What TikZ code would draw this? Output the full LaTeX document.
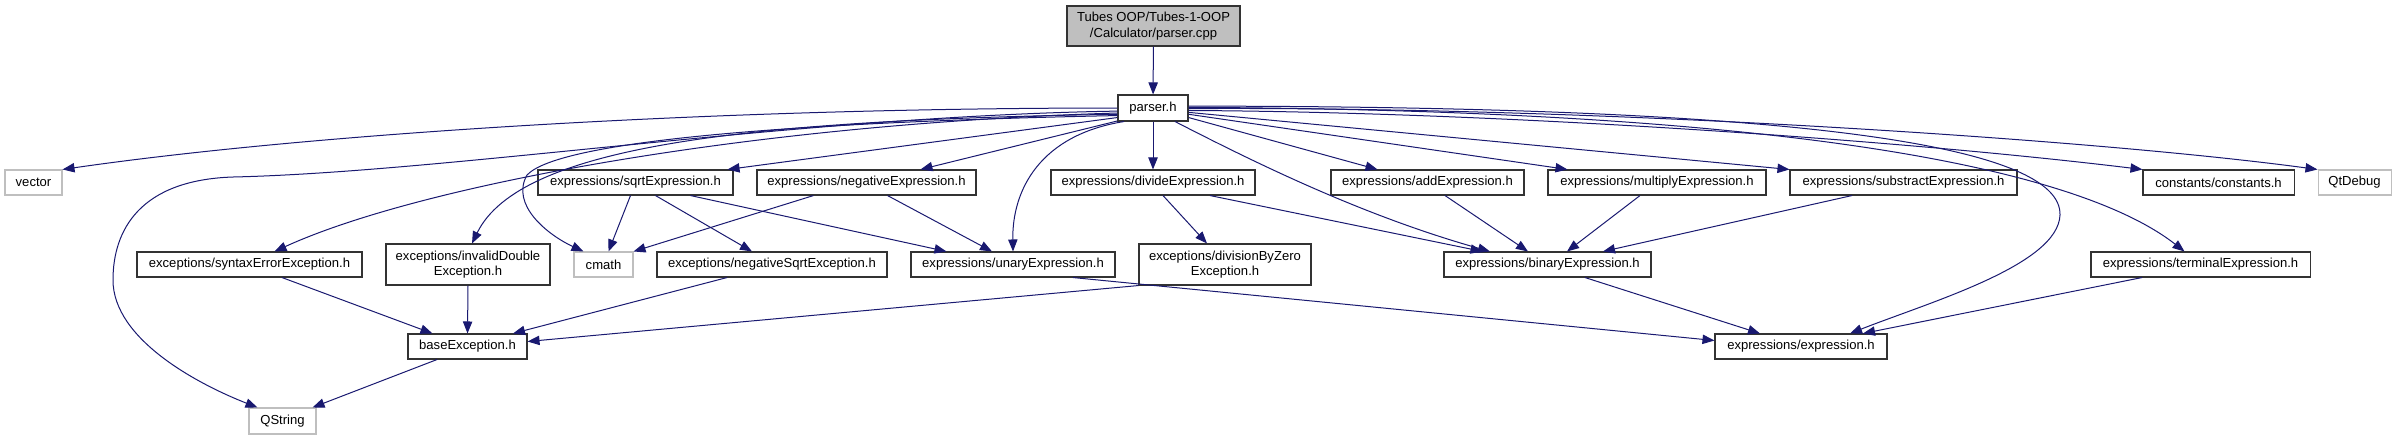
\documentclass[tikz,border=0pt]{standalone}
\usepackage{fontspec}
\setmainfont{Liberation Sans}
\usetikzlibrary{arrows.meta,calc}
\definecolor{edgeblue}{HTML}{191970}
\definecolor{boxgray}{HTML}{BFBFBF}
\definecolor{boxline}{HTML}{333333}

\begin{document}
\begin{tikzpicture}[
    x=0.75pt, y=-0.75pt,
    every node/.style={font=\fontsize{9.8}{11.5}\selectfont},
    file/.style={draw=boxline, line width=0.8pt, fill=white, inner sep=0pt,
        minimum height=25*0.75pt, align=center},
    sysfile/.style={file, draw=boxgray},
    srcfile/.style={file, fill=boxgray, minimum height=40*0.75pt},
    twoline/.style={minimum height=41*0.75pt},
    wd/.style={minimum width=#1*0.75pt},
    inc/.style={draw=edgeblue, line width=0.75pt, -{Triangle[length=9pt, width=7pt]}},
]
\useasboundingbox (0,0) rectangle (2397,440);

% the source file and its header
\node[srcfile, wd=173] (root) at (1153.5,26) {Tubes OOP/Tubes-1-OOP\\/Calculator/parser.cpp};
\node[file, wd=70, minimum height=26*0.75pt] (parser) at (1153,108) {parser.h};

% first row of includes
\node[sysfile, wd=57] (vec) at (33.5,182.5) {vector};
\node[file, wd=195] (sqrtE) at (635.5,182.5) {expressions/sqrtExpression.h};
\node[file, wd=219] (negE) at (866.5,182.5) {expressions/negativeExpression.h};
\node[file, wd=204] (divE) at (1153,182.5) {expressions/divideExpression.h};
\node[file, wd=193] (addE) at (1427.5,182.5) {expressions/addExpression.h};
\node[file, wd=218] (mulE) at (1657,182.5) {expressions/multiplyExpression.h};
\node[file, wd=227] (subE) at (1903.5,182.5) {expressions/substractExpression.h};
\node[file, wd=151] (consts) at (2218.5,182.5) {constants/constants.h};
\node[sysfile, wd=73] (qtdbg) at (2354.5,182.5) {QtDebug};

% second row
\node[file, wd=225] (synEx) at (249.5,264.5) {exceptions/syntaxErrorException.h};
\node[file, twoline, wd=164] (invEx) at (468,264.5) {exceptions/invalidDouble\\Exception.h};
\node[sysfile, wd=59] (cmath) at (603.5,264.5) {cmath};
\node[file, wd=230] (nsqEx) at (772,264.5) {exceptions/negativeSqrtException.h};
\node[file, wd=204] (unE) at (1013,264.5) {expressions/unaryExpression.h};
\node[file, twoline, wd=172] (dzEx) at (1225,264.5) {exceptions/divisionByZero\\Exception.h};
\node[file, wd=207] (binE) at (1547.5,264.5) {expressions/binaryExpression.h};
\node[file, wd=219] (termE) at (2200.5,264.5) {expressions/terminalExpression.h};

% third and fourth rows
\node[file, wd=119] (baseEx) at (467.5,346.5) {baseException.h};
\node[file, wd=172] (exprE) at (1801,346.5) {expressions/expression.h};
\node[sysfile, wd=67, minimum height=26*0.75pt] (qstr) at (282.5,421) {QString};

\draw[inc] (root) -- (parser);

% parser.h, fan to the left
\draw[inc] (parser.180) .. controls (700,108) and (300,135) .. (vec.north east);
\draw[inc] (parser.185) .. controls (800,116) and (450,172) .. (233,177)
    .. controls (140,180) and (113,230) .. (113,280)
    .. controls (113,340) and (200,385) .. ($(qstr.north west)+(9,0)$);
\draw[inc] (parser.188) .. controls (750,124) and (420,185) .. ($(synEx.north)+(25,0)$);
\draw[inc] (parser.190) .. controls (750,120) and (520,145) .. ($(invEx.north)+(4,0)$);
\draw[inc] (parser.192) .. controls (800,122) and (560,140) .. (527,175)
    .. controls (510,205) and (548,235) .. ($(cmath.north west)+(10,0)$);
\draw[inc] (parser.195) -- ($(sqrtE.north east)+(-6,0)$);
\draw[inc] (parser.200) -- ($(negE.north)+(54,0)$);
\draw[inc] (parser.205) .. controls (1040,135) and (1012,190) .. (unE.north);

% parser.h, fan to the right
\draw[inc] (parser.south) -- (divE.north);
\draw[inc] ($(parser.south)+(22,0)$) .. controls (1250,160) and (1360,215) .. ($(binE.north)+(-57.5,0)$);
\draw[inc] (parser.-15) -- ($(addE.north)+(-50,0)$);
\draw[inc] (parser.-10) -- ($(mulE.north west)+(20,0)$);
\draw[inc] (parser.-7) -- (subE.north west);
\draw[inc] (parser.-4) .. controls (1500,112) and (1900,140) .. (consts.north west);
\draw[inc] (parser.-1) .. controls (1600,106) and (2100,140) .. (qtdbg.north west);
\draw[inc] (parser.3) .. controls (1800,106) and (2062,145) .. (2060,215)
    .. controls (2058,265) and (1930,302) .. ($(exprE.north)+(49,0)$);
\draw[inc] (parser.1) .. controls (1800,110) and (2080,170) .. ($(termE.north)+(-16,0)$);

% lower levels
\draw[inc] ($(sqrtE.south)+(-5,0)$) -- ($(cmath.north)+(5,0)$);
\draw[inc] ($(sqrtE.south)+(20,0)$) -- ($(nsqEx.north)+(-20,0)$);
\draw[inc] ($(sqrtE.south)+(55,0)$) -- ($(unE.north west)+(36,0)$);
\draw[inc] ($(negE.south)+(-53,0)$) -- (cmath.north east);
\draw[inc] ($(negE.south)+(21,0)$) -- ($(unE.north)+(-21,0)$);
\draw[inc] ($(divE.south)+(10,0)$) -- ($(dzEx.north)+(-18,0)$);
\draw[inc] ($(divE.south)+(57,0)$) -- ($(binE.north west)+(39,0)$);
\draw[inc] ($(addE.south)+(17.5,0)$) -- ($(binE.north)+(-19.5,0)$);
\draw[inc] ($(mulE.south)+(-17,0)$) -- ($(binE.north)+(19.5,0)$);
\draw[inc] ($(subE.south)+(-51.5,0)$) -- ($(binE.north)+(55.5,0)$);
\draw[inc] ($(synEx.south)+(32.5,0)$) -- ($(baseEx.north west)+(25,0)$);
\draw[inc] (invEx.south) -- (baseEx.north);
\draw[inc] ($(nsqEx.south)+(-45,0)$) -- ($(baseEx.north)+(45.5,0)$);
\draw[inc] (dzEx.south west) -- ($(baseEx.east)+(0,-5)$);
\draw[inc] ($(unE.south)+(60,0)$) -- ($(exprE.west)+(0,-6)$);
\draw[inc] ($(binE.south)+(37.5,0)$) -- ($(exprE.north)+(-41,0)$);
\draw[inc] ($(termE.south)+(-58.5,0)$) -- ($(exprE.north)+(62,0)$);
\draw[inc] ($(baseEx.south)+(-30.5,0)$) -- ($(qstr.north east)+(-4,0)$);
\end{tikzpicture}
\end{document}
